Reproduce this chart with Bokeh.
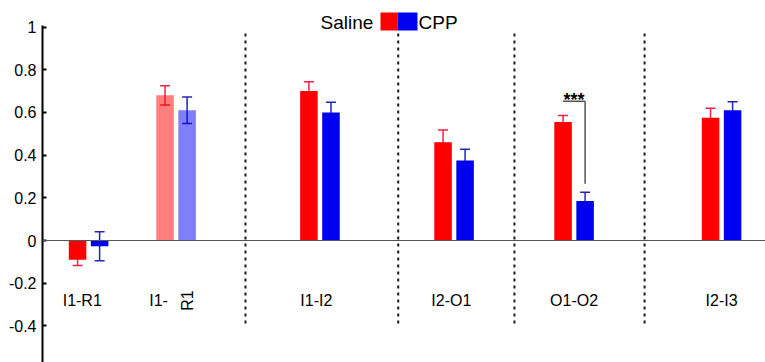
import math
from bokeh.plotting import figure
from bokeh.models import (ColumnDataSource, Range1d, FixedTicker, Span, Whisker,
                          TeeHead, Label, BoxAnnotation)
from bokeh.core.properties import value
from bokeh.embed import file_html
from bokeh.resources import INLINE

# ---------------- data ----------------
categories = ["I1-R1", "I1- R1", "I1-I2", "I2-O1", "O1-O2", "I2-I3"]
saline_mean = [-0.09, 0.68, 0.70, 0.46, 0.555, 0.575]
saline_err = [0.027, 0.045, 0.043, 0.058, 0.031, 0.045]
cpp_mean = [-0.027, 0.61, 0.60, 0.375, 0.185, 0.61]
cpp_err = [0.068, 0.062, 0.047, 0.052, 0.041, 0.040]
significance = ["", "", "", "", "***", ""]
y_ticks = [-0.4, -0.2, 0.0, 0.2, 0.4, 0.6, 0.8, 1.0]
y_tick_labels = ["-0.4", "-0.2", "0", "0.2", "0.4", "0.6", "0.8", "1"]
series_names = ["Saline", "CPP"]

# ---------------- layout / style ----------------
group_x = [2.55, 7.39, 15.35, 22.77, 29.41, 37.57]
label_shift = [-0.35, 0, -0.2, -0.15, 0, 0]
separator_x = [11.23, 19.68, 26.11, 33.31]
bar_alpha = [1, 0.5, 1, 1, 1, 1]
offset = 0.61
bar_w = 0.97
Y_START, Y_END = -0.5714, 1.1054
RED = "#ff0000"
BLUE = "#0000f0"
RED_ERR = "#ee2244"
BLUE_ERR = "#2424b8"
FONT = "Liberation Sans"

p = figure(width=765, height=362, x_range=Range1d(0, 40.0), y_range=Range1d(Y_START, Y_END),
           output_backend="svg", toolbar_location=None, x_axis_location=None,
           min_border_left=42, min_border_right=0, min_border_top=4, min_border_bottom=0)
p.outline_line_color = None
p.grid.visible = False
p.background_fill_color = "white"

# y axis
ya = p.yaxis[0]
ya.ticker = FixedTicker(ticks=y_ticks)
ya.major_label_overrides = {t: l for t, l in zip(y_ticks, y_tick_labels)}
ya.bounds = (Y_START, 1.005)
ya.axis_line_width = 2
ya.axis_line_color = "black"
ya.major_tick_in = 4
ya.major_tick_out = 0
ya.major_tick_line_width = 2
ya.minor_tick_line_color = None
ya.major_label_text_font = FONT
ya.major_label_text_font_size = "16px"
ya.major_label_text_color = "black"
ya.major_label_standoff = 6

# zero line
p.add_layout(Span(location=0, dimension="width", line_color="#555555", line_width=1.2))

# separators
p.segment(x0=separator_x, y0=0.97, x1=separator_x, y1=-0.40,
          line_color="#1a1a1a", line_width=2, line_dash="3 4")

sal_x = [g - offset for g in group_x]
cpp_x = [g + offset for g in group_x]

src_s = ColumnDataSource(dict(x=sal_x, top=saline_mean, alpha=bar_alpha,
                              upper=[m + e for m, e in zip(saline_mean, saline_err)],
                              lower=[m - e for m, e in zip(saline_mean, saline_err)]))
src_c = ColumnDataSource(dict(x=cpp_x, top=cpp_mean, alpha=bar_alpha,
                              upper=[m + e for m, e in zip(cpp_mean, cpp_err)],
                              lower=[m - e for m, e in zip(cpp_mean, cpp_err)]))

for src, col in ((src_s, RED_ERR), (src_c, BLUE_ERR)):
    w = Whisker(base="x", upper="upper", lower="lower", source=src, dimension="height",
                line_color=col, line_width=1.5, level="underlay",
                upper_head=TeeHead(size=10, line_color=col, line_width=1.5),
                lower_head=TeeHead(size=10, line_color=col, line_width=1.5))
    p.add_layout(w)

p.vbar(x="x", top="top", bottom=0, width=bar_w, source=src_s, fill_color=RED,
       fill_alpha="alpha", line_color=None)
p.vbar(x="x", top="top", bottom=0, width=bar_w, source=src_c, fill_color=BLUE,
       fill_alpha="alpha", line_color=None)

# category labels
lx, lt, la = [], [], []
for g, c, sh in zip(group_x, categories, label_shift):
    if " " in c:
        a, b = c.split(" ")
        lx += [g - 0.97, g + 0.62]
        lt += [a, b]
        la += [0, math.pi / 2]
    else:
        lx.append(g + sh)
        lt.append(c)
        la.append(0)
p.text(x=lx, y=-0.281, text=lt, angle=la, text_align="center", text_baseline="middle",
       text_font=value(FONT), text_font_size="16px", text_color="black")

# significance bracket
for i, s in enumerate(significance):
    if not s:
        continue
    ytop = 0.652
    ybot = cpp_mean[i] + cpp_err[i] + 0.04
    p.segment(x0=[sal_x[i], cpp_x[i]], y0=[ytop, ytop], x1=[cpp_x[i], cpp_x[i]], y1=[ytop, ybot],
              line_color="#555555", line_width=1.5)
    p.text(x=[group_x[i]], y=[0.656], text=[s], text_align="center", text_baseline="alphabetic",
           text_font=value(FONT), text_font_size="18px", text_font_style="bold", text_color="black")

# legend: "Saline [red][blue] CPP"
p.add_layout(Label(x=278, y=340, x_units="screen", y_units="screen", text=series_names[0],
                   text_baseline="middle", text_align="left", text_font=FONT,
                   text_font_size="19px", text_color="black"))
p.add_layout(BoxAnnotation(left=338, right=355, bottom=332, top=350,
                           left_units="screen", right_units="screen",
                           bottom_units="screen", top_units="screen",
                           fill_color=RED, fill_alpha=1, line_color=None))
p.add_layout(BoxAnnotation(left=355, right=375, bottom=332, top=350,
                           left_units="screen", right_units="screen",
                           bottom_units="screen", top_units="screen",
                           fill_color=BLUE, fill_alpha=1, line_color=None))
p.add_layout(Label(x=376, y=340, x_units="screen", y_units="screen", text=series_names[1],
                   text_baseline="middle", text_align="left", text_font=FONT,
                   text_font_size="19px", text_color="black"))

open("out.html", "w").write(file_html(p, INLINE))
